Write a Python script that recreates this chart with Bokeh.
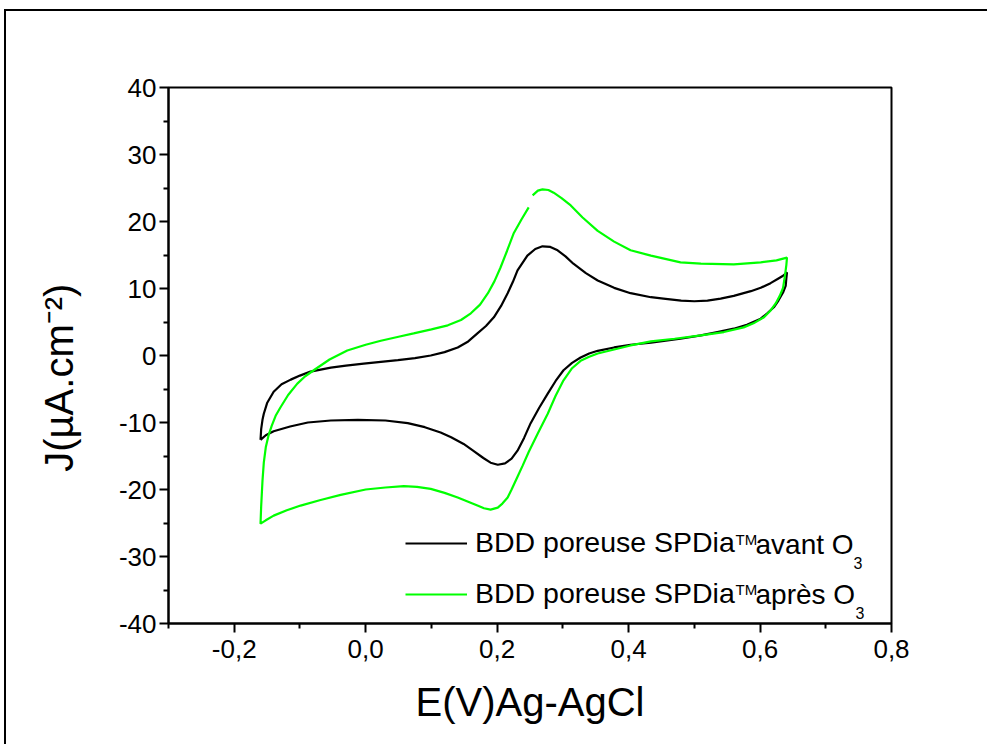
from bokeh.plotting import figure
from bokeh.layouts import column, row
from bokeh.models import (Range1d, FixedTicker, CustomJSTickFormatter, Label,
                          Legend, LegendItem, Div, Spacer)
from bokeh.embed import file_html
from bokeh.resources import INLINE

# ---------------- data ----------------
# BDD poreuse SPDia(TM) avant O3 : one closed cyclic voltammogram
avant_E = [-0.160, -0.159, -0.157, -0.155, -0.150, -0.140, -0.128, -0.114, -0.100,
           -0.084, -0.053, -0.030, -0.003, 0.049, 0.075, 0.099, 0.120, 0.140,
           0.156, 0.170, 0.183, 0.195, 0.206, 0.216, 0.224, 0.231, 0.246, 0.258,
           0.269, 0.281, 0.292, 0.304, 0.316, 0.335, 0.353, 0.378, 0.403, 0.434,
           0.453, 0.480, 0.500, 0.520, 0.540, 0.560, 0.586, 0.601, 0.616, 0.628,
           0.635, 0.641,
           0.640, 0.639, 0.635, 0.628, 0.621, 0.611, 0.601, 0.580, 0.560, 0.535,
           0.510, 0.479, 0.434, 0.403, 0.378, 0.353, 0.340, 0.327, 0.314, 0.301,
           0.289, 0.277, 0.264, 0.251, 0.241, 0.231, 0.222, 0.212, 0.201, 0.190,
           0.179, 0.165, 0.149, 0.130, 0.114, 0.090, 0.064, 0.030, -0.012,
           -0.053, -0.088, -0.115, -0.140, -0.152, -0.160]
avant_J = [-12.6, -11.0, -9.6, -8.7, -7.1, -5.4, -4.3, -3.6, -3.0,
           -2.4, -1.8, -1.5, -1.2, -0.7, -0.4, 0.0, 0.5, 1.2,
           2.1, 3.3, 4.4, 5.7, 7.4, 9.3, 11.0, 12.7, 14.9, 15.9,
           16.3, 16.2, 15.7, 14.8, 13.7, 12.3, 11.2, 10.1, 9.3, 8.7,
           8.5, 8.2, 8.1, 8.2, 8.5, 8.9, 9.6, 10.1, 10.8, 11.5,
           11.9, 12.4,
           11.5, 10.4, 9.4, 8.2, 7.2, 6.3, 5.5, 4.6, 4.0, 3.5,
           3.0, 2.5, 1.9, 1.6, 1.2, 0.7, 0.3, -0.3, -1.1, -2.2,
           -3.8, -5.7, -7.8, -10.1, -12.3, -14.2, -15.4, -16.1, -16.3, -16.0,
           -15.3, -14.3, -13.2, -12.2, -11.5, -10.7, -10.1, -9.7, -9.6,
           -9.7, -10.0, -10.6, -11.3, -11.9, -12.6]

# BDD poreuse SPDia(TM) apres O3 (path starts just after the small gap near the anodic peak)
apres_E = [0.254, 0.262, 0.269, 0.278, 0.286, 0.298, 0.312, 0.330, 0.353, 0.378,
           0.403, 0.434, 0.479, 0.510, 0.560, 0.601, 0.625, 0.641,
           0.640, 0.638, 0.635, 0.630, 0.624, 0.615, 0.606, 0.590, 0.575, 0.545,
           0.510, 0.470, 0.434, 0.403, 0.378, 0.353, 0.340, 0.327, 0.314, 0.301,
           0.289, 0.277, 0.262, 0.248, 0.239, 0.231, 0.222, 0.216, 0.208, 0.201,
           0.190, 0.180, 0.170, 0.155, 0.140, 0.120, 0.099, 0.078, 0.058, 0.030,
           0.000, -0.038, -0.070, -0.099, -0.120, -0.140, -0.152, -0.160,
           -0.159, -0.157, -0.155, -0.152, -0.148, -0.143, -0.137, -0.130, -0.118,
           -0.104, -0.092, -0.079, -0.055, -0.028, 0.000, 0.023, 0.050, 0.073,
           0.100, 0.125, 0.145, 0.160, 0.174, 0.186, 0.196, 0.205, 0.215, 0.225,
           0.237, 0.248]
apres_J = [23.9, 24.6, 24.8, 24.7, 24.3, 23.5, 22.4, 20.6, 18.6, 17.0,
           15.7, 14.9, 13.9, 13.7, 13.6, 13.9, 14.2, 14.6,
           13.5, 12.0, 10.1, 8.9, 7.8, 6.6, 5.7, 4.8, 4.2, 3.5,
           3.0, 2.5, 2.1, 1.5, 0.9, 0.3, -0.2, -0.8, -1.9, -3.7,
           -6.0, -8.7, -11.6, -14.4, -16.4, -18.1, -20.0, -21.2, -22.1, -22.7,
           -23.0, -22.8, -22.4, -21.8, -21.2, -20.5, -19.9, -19.6, -19.5, -19.7,
           -20.0, -20.8, -21.6, -22.4, -23.1, -23.9, -24.6, -25.1,
           -22.5, -18.7, -16.0, -13.7, -12.0, -10.5, -9.0, -7.8, -5.9,
           -4.2, -3.1, -2.2, -0.6, 0.75, 1.6, 2.2, 2.8, 3.3,
           3.9, 4.5, 5.3, 6.3, 7.6, 9.3, 11.1, 13.1, 15.6, 18.2,
           20.3, 22.1]

x_major = [-0.2, 0.0, 0.2, 0.4, 0.6, 0.8]
x_minor = [-0.3, -0.1, 0.1, 0.3, 0.5, 0.7]
y_major = [-40, -30, -20, -10, 0, 10, 20, 30, 40]
y_minor = [-35, -25, -15, -5, 5, 15, 25, 35]

series_names = ["BDD poreuse SPDia", "BDD poreuse SPDia"]
series_tails = ["avant O", "après O"]
x_title = "E(V)Ag-AgCl"
y_title = "J(µA.cm⁻²)\u00a0\u00a0\u00a0\u00a0"

FONT = "Liberation Sans"
OX, OY = 6, 11          # where the canvas starts on the page

p = figure(frame_width=723, frame_height=536,
           min_border_left=168 - OX, min_border_right=90,
           min_border_top=87 - OY, min_border_bottom=120,
           x_range=Range1d(-0.3, 0.8), y_range=Range1d(-40, 40),
           output_backend="svg", toolbar_location=None, margin=0)

p.xgrid.visible = False
p.ygrid.visible = False
p.outline_line_color = "black"
p.outline_line_width = 2
p.background_fill_color = "white"
p.border_fill_color = "white"

r1 = p.line(avant_E, avant_J, line_color="black", line_width=2.2)
r2 = p.line(apres_E, apres_J, line_color="#00ff00", line_width=2.2)

for ax in (p.xaxis[0], p.yaxis[0]):
    ax.axis_line_width = 2
    ax.major_tick_line_width = 2
    ax.minor_tick_line_width = 2
    ax.major_tick_out = 9
    ax.major_tick_in = 0
    ax.minor_tick_out = 5
    ax.minor_tick_in = 0
    ax.major_label_text_font = FONT
    ax.major_label_text_font_size = "26px"
    ax.major_label_text_color = "black"
    ax.axis_label_text_font = FONT
    ax.axis_label_text_font_size = "40px"
    ax.axis_label_text_font_style = "normal"
    ax.axis_label_text_color = "black"

p.xaxis[0].ticker = FixedTicker(ticks=x_major, minor_ticks=x_minor)
p.yaxis[0].ticker = FixedTicker(ticks=y_major, minor_ticks=y_minor)
p.xaxis[0].formatter = CustomJSTickFormatter(code="return tick.toFixed(1).replace('.', ',')")
p.yaxis[0].formatter = CustomJSTickFormatter(code="return tick.toFixed(0)")
p.xaxis[0].major_label_standoff = 7
p.yaxis[0].major_label_standoff = 3
p.xaxis[0].axis_label = x_title
p.yaxis[0].axis_label = y_title
p.xaxis[0].axis_label_standoff = 19
p.yaxis[0].axis_label_standoff = 35

# legend (sample lines + first part of the texts)
legend = Legend(items=[LegendItem(label=series_names[0], renderers=[r1]),
                       LegendItem(label=series_names[1], renderers=[r2])],
                location=(237, 13), padding=0, margin=0, spacing=18,
                glyph_width=62, glyph_height=32, label_height=32,
                label_standoff=8, border_line_alpha=0, background_fill_alpha=0,
                label_text_font=FONT, label_text_font_size="28.5px",
                label_text_color="black")
p.add_layout(legend)

def lab(x, y, text, size, baseline="alphabetic"):
    p.add_layout(Label(x=x - OX, y=y - OY, x_units="canvas", y_units="canvas", text=text,
                       text_font=FONT, text_font_size=size, text_color="black",
                       text_align="left", text_baseline=baseline))

row_c = [544, 594]          # page y of the legend rows
sub_x = [853, 855]
for i in range(2):
    base = row_c[i] + 10
    lab(735, base - 15, "TM", "15px")
    lab(755, row_c[i], series_tails[i], "28px", baseline="middle")
    lab(sub_x[i], base + 8, "3", "16px")

# page frame of the exported graph: only its top and left edges are in view
top_edge = Div(text="", width=983, height=2, margin=0, styles={"background-color": "black"})
left_edge = Div(text="", width=2, height=733, margin=0, styles={"background-color": "black"})
page = column(Spacer(width=4, height=9, margin=0),
              row(Spacer(width=4, height=735, margin=0),
                  column(top_edge, row(left_edge, p, spacing=0, margin=0),
                         spacing=0, margin=0),
                  spacing=0, margin=0),
              spacing=0, margin=0)

open("out.html", "w").write(file_html(page, INLINE))
